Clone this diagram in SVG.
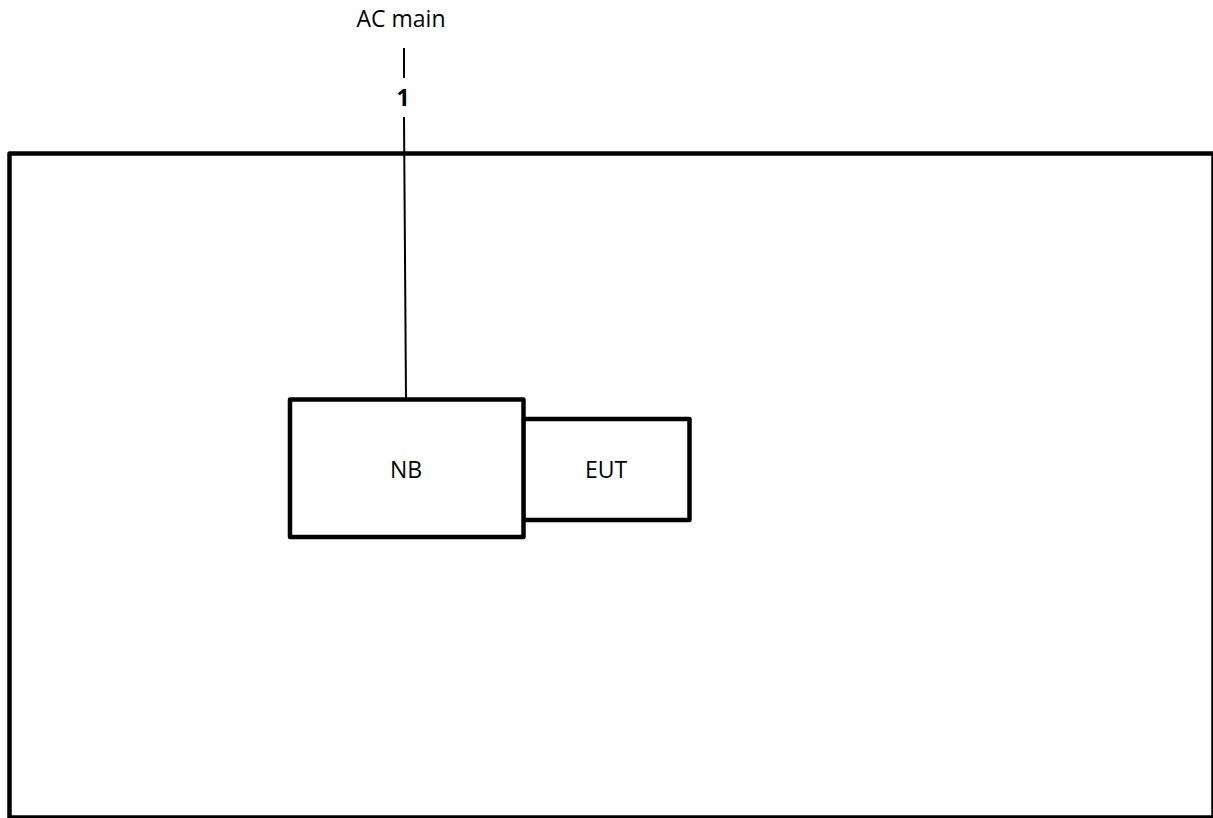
<svg xmlns="http://www.w3.org/2000/svg" width="1213" height="818" viewBox="0 0 1213 818">
<style>
.box{fill:#fff;stroke:#000;stroke-width:4.5;stroke-linejoin:round}
.lbl{font-family:"Open Sans","Liberation Sans",Arial,sans-serif;font-size:23px;fill:#000;text-anchor:middle}
.wire{stroke:#000;stroke-width:2;fill:none}
</style>
<rect width="1213" height="818" fill="#fff"/>
<g id="enclosure"><rect class="box" x="9.5" y="153.5" width="1204" height="664"/></g>
<g id="connectors">
<line class="wire" x1="404" y1="48" x2="404" y2="78"/>
<line class="wire" x1="404" y1="117" x2="406" y2="398"/>
</g>
<g id="ac-main"><text class="lbl" x="401" y="27">AC main</text></g>
<g id="label-1"><text class="lbl" x="403" y="106" style="font-weight:bold;font-size:23px">1</text></g>
<g id="eut"><rect class="box" x="523" y="419" width="166.5" height="101"/><text class="lbl" x="606" y="478">EUT</text></g>
<g id="nb"><rect class="box" x="290" y="399.5" width="233.5" height="137.5"/><text class="lbl" x="406" y="478">NB</text></g>
</svg>
